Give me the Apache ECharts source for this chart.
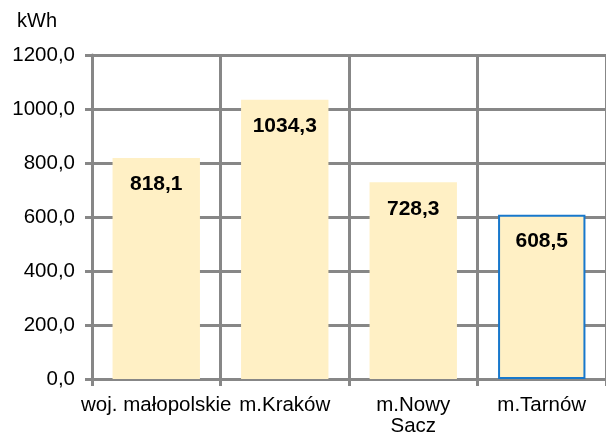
<!DOCTYPE html>
<html><head><meta charset="utf-8">
<script src="https://cdn.jsdelivr.net/npm/echarts@6/dist/echarts.min.js"></script>
<style>html,body{margin:0;padding:0;background:#fff}#c{width:606px;height:439px}</style>
</head><body><div id="c"></div>
<script>
const categories = ['woj. małopolskie', 'm.Kraków', 'm.Nowy\nSacz', 'm.Tarnów'];
const values = [818.1, 1034.3, 728.3, 608.5];
const yTicks = [0, 200, 400, 600, 800, 1000, 1200];
const unitLabel = 'kWh';

const gridColor = '#878787';
const fmt = v => v.toFixed(1).replace('.', ',');
const chart = echarts.init(document.getElementById('c'), null, {renderer: 'canvas'});
chart.setOption({
  animation: false,
  textStyle: {fontFamily: 'Liberation Sans'},
  graphic: [{type: 'text', left: 17, top: 11, style: {text: unitLabel, font: '20px Liberation Sans', fill: '#000'}}],
  grid: {left: 92, top: 55, width: 520, height: 324, containLabel: false},
  xAxis: {
    type: 'category', data: categories,
    axisLine: {lineStyle: {color: gridColor, width: 3}},
    axisTick: {show: true, length: 7, lineStyle: {color: gridColor, width: 3}},
    splitLine: {show: true, lineStyle: {color: gridColor, width: 3}},
    axisLabel: {color: '#000', fontSize: 20.5, margin: 16, lineHeight: 21, interval: 0}
  },
  yAxis: {
    type: 'value', min: yTicks[0], max: yTicks[yTicks.length - 1], interval: 200,
    axisLine: {show: true, lineStyle: {color: gridColor, width: 3}},
    axisTick: {show: true, length: 7, lineStyle: {color: gridColor, width: 3}},
    splitLine: {show: true, lineStyle: {color: gridColor, width: 3}},
    axisLabel: {color: '#000', fontSize: 20.5, margin: 17, formatter: v => fmt(v)}
  },
  series: [{
    type: 'bar', barWidth: '68%',
    data: values.map((v, i) => ({
      value: v,
      itemStyle: i === 3 ? {color: '#FFF0C5', borderColor: '#1878CC', borderWidth: 2} : {color: '#FFF0C5'}
    })),
    label: {show: true, position: 'insideTop', distance: 16, color: '#000', fontSize: 21, fontWeight: 'bold', formatter: p => fmt(p.value)}
  }]
});
</script></body></html>
